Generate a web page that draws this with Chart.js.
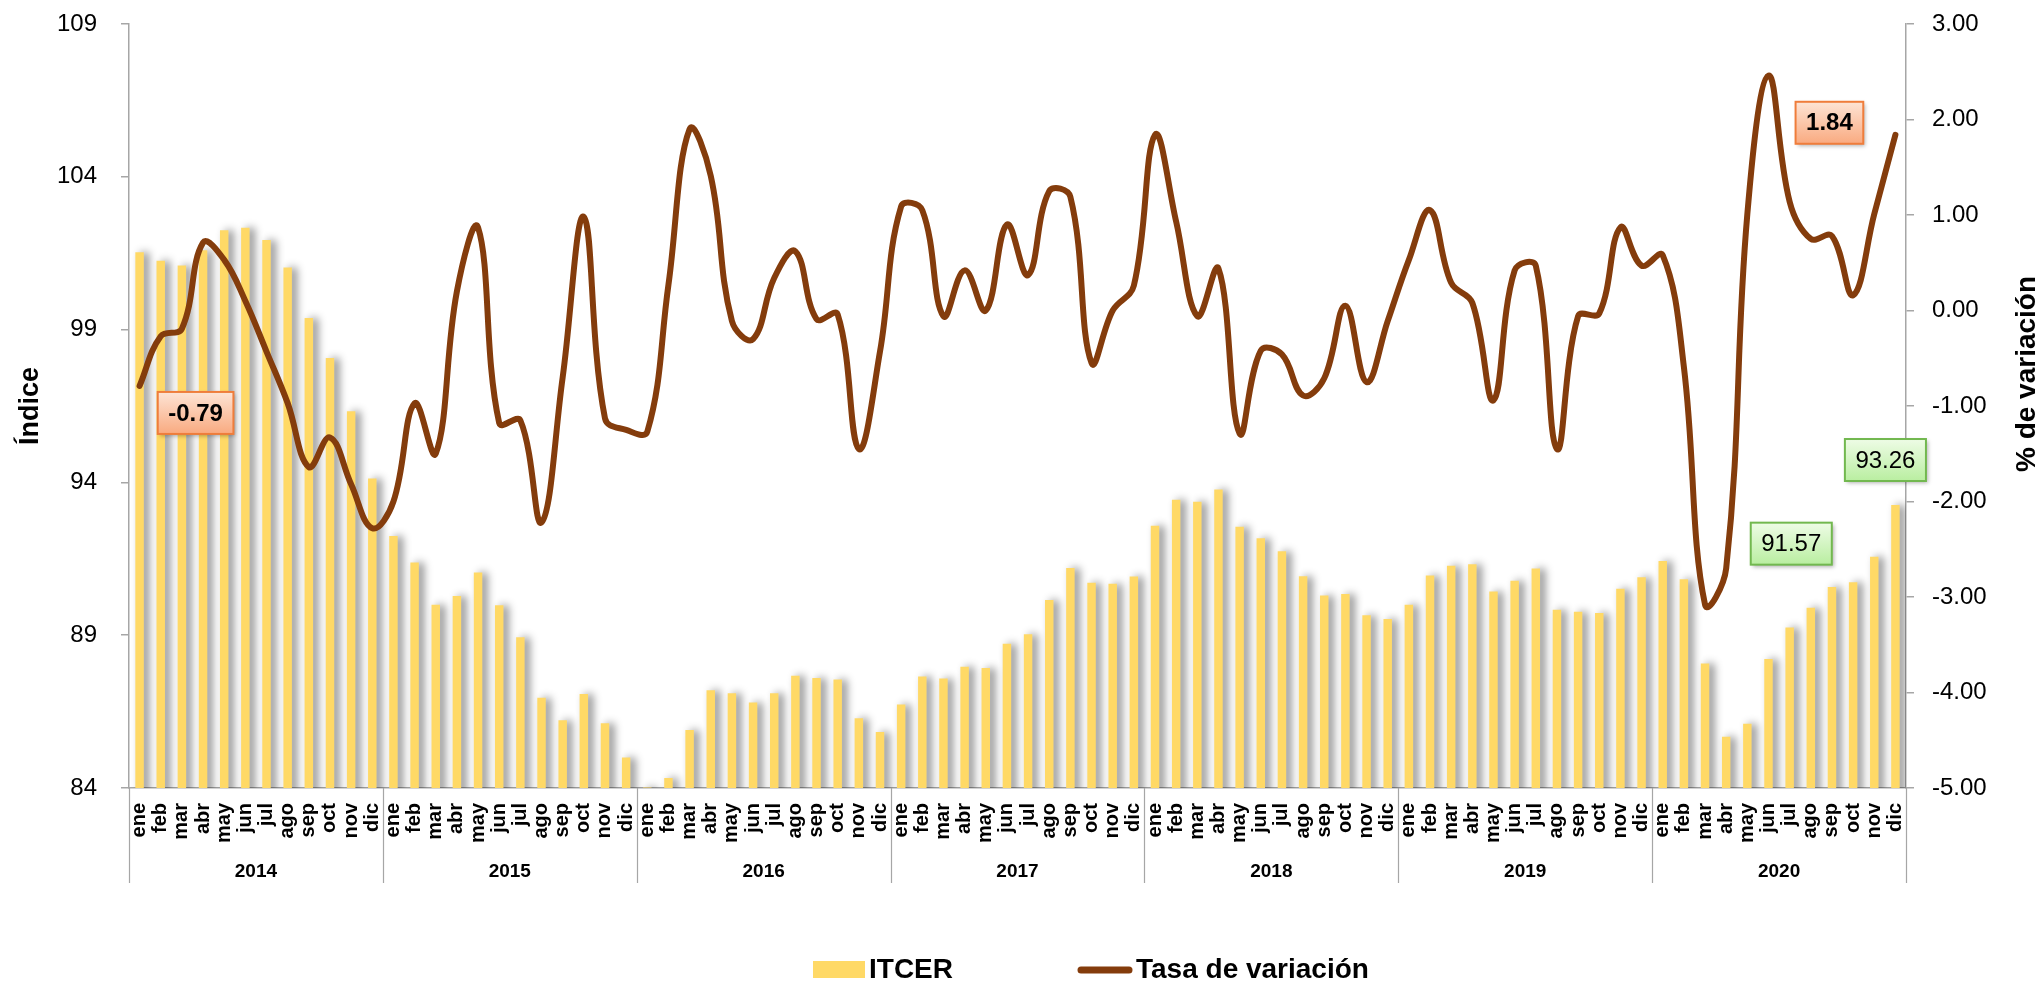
<!DOCTYPE html>
<html lang="es">
<head>
<meta charset="utf-8">
<title>ITCER y tasa de variación</title>
<script src="https://cdn.jsdelivr.net/npm/chart.js@4.4.0/dist/chart.umd.min.js"></script>
<style>
  html, body { margin: 0; padding: 0; background: #fff; }
  #wrap { width: 2040px; height: 982px; position: relative; }
</style>
</head>
<body>
<div id="wrap"><canvas id="chartItcer" width="2040" height="982"></canvas></div>
<script>
// ── datos ──────────────────────────────────
const MESES = ["ene","feb","mar","abr","may","jun","jul","ago","sep","oct","nov","dic"];
const ANIOS = ["2014","2015","2016","2017","2018","2019","2020"];

// Índice (eje izquierdo)
const ITCER = [
  101.53, 101.25, 101.10, 101.60, 102.25, 102.33, 101.93, 101.03,  99.38,  98.07,  96.33,  94.13,
   92.25,  91.38,  90.00,  90.28,  91.05,  89.98,  88.93,  86.95,  86.22,  87.08,  86.12,  85.00,
   84.02,  84.33,  85.90,  87.20,  87.10,  86.80,  87.10,  87.67,  87.60,  87.55,  86.28,  85.83,
   86.73,  87.65,  87.58,  87.97,  87.93,  88.72,  89.03,  90.15,  91.20,  90.72,  90.68,  90.92,
   92.58,  93.43,  93.37,  93.77,  92.55,  92.17,  91.75,  90.93,  90.30,  90.35,  89.65,  89.53,
   90.00,  90.95,  91.27,  91.32,  90.43,  90.78,  91.18,  89.83,  89.77,  89.73,  90.52,  90.90,
   91.43,  90.83,  88.07,  85.68,  86.10,  88.22,  89.25,  89.90,  90.58,  90.73,  91.57,  93.26
];

// % de variación (eje derecho)
const TASA = [
  -0.79, -0.27, -0.19,  0.71,  0.53,  0.10, -0.43, -0.97, -1.64, -1.33, -1.82, -2.28,
  -2.00, -0.97, -1.50,  0.20,  0.87, -1.18, -1.15, -2.22, -0.70,  0.98, -1.13, -1.25,
  -1.27,  0.27,  1.90,  1.41, -0.11, -0.30,  0.34,  0.62, -0.09, -0.04, -1.45, -0.43,
   1.09,  1.05, -0.06,  0.42,  0.00,  0.90,  0.37,  1.25,  1.19, -0.55,  0.00,  0.26,
   1.84,  0.93, -0.06,  0.44, -1.29, -0.42, -0.46, -0.89, -0.71,  0.05, -0.75, -0.11,
   0.53,  1.05,  0.29,  0.08, -0.94,  0.42,  0.47, -1.45, -0.06, -0.03,  0.87,  0.47,
   0.58, -0.59, -3.08, -2.70,  1.01,  2.46,  1.14,  0.75,  0.78,  0.16,  1.01,  1.84
];

const ETIQUETAS = ANIOS.flatMap(() => MESES);

// recuadros de valor: dataset, índice y desplazamiento desde el punto
const RECUADROS = [
  { ds: 1, idx: 0,  dx:  56, dy:  27, tipo: "tasa"  },
  { ds: 1, idx: 83, dx: -66, dy: -12, tipo: "tasa"  },
  { ds: 0, idx: 82, dx: -83, dy: -13, tipo: "itcer" },
  { ds: 0, idx: 83, dx: -10, dy: -45, tipo: "itcer" }
];

// ── estilos ────────────────────────────────
const FONT = "'Liberation Sans', Arial, sans-serif";
const GRIS = "#a6a6a6";
const AMAR = "#ffd966";
const CAFE = "#843c0c";

Chart.defaults.font.family = FONT;
Chart.defaults.color = "#000";

// sombra suave detrás de las barras
const sombraBarras = {
  id: "sombraBarras",
  beforeDatasetDraw(chart, args) {
    if (args.index !== 0) return;
    const ctx = chart.ctx;
    ctx.save();
    ctx.shadowColor   = "rgba(0,0,0,0.45)";
    ctx.shadowBlur    = 8;
    ctx.shadowOffsetX = 5;
    ctx.shadowOffsetY = 0;
  },
  afterDatasetDraw(chart, args) {
    if (args.index === 0) chart.ctx.restore();
  }
};

// separadores de año bajo el eje x
const separadores = {
  id: "separadores",
  afterDraw(chart) {
    const { ctx, chartArea, scales } = chart;
    const x = scales.x, x2 = scales.x2;
    const half = (x.getPixelForValue(1) - x.getPixelForValue(0)) / 2;
    ctx.save();
    ctx.strokeStyle = GRIS;
    ctx.lineWidth = 1.2;
    for (let k = 0; k <= ANIOS.length; k++) {
      const px = k < ANIOS.length
        ? x.getPixelForValue(k * 12) - half
        : x.getPixelForValue(ANIOS.length * 12 - 1) + half;
      ctx.beginPath();
      ctx.moveTo(Math.round(px) + 0.5, chartArea.bottom);
      ctx.lineTo(Math.round(px) + 0.5, x2.bottom - 5);
      ctx.stroke();
    }
    ctx.restore();
  }
};

// título del eje derecho, leído de abajo hacia arriba
const tituloDerecho = {
  id: "tituloDerecho",
  afterDraw(chart) {
    const ctx = chart.ctx;
    const y1 = chart.scales.y1;
    ctx.save();
    ctx.translate(y1.right - 13, (y1.top + y1.bottom) / 2 - 32);
    ctx.rotate(-Math.PI / 2);
    ctx.font = "bold 28px " + FONT;
    ctx.textAlign = "center";
    ctx.textBaseline = "middle";
    ctx.fillStyle = "#000";
    ctx.fillText("% de variación", 0, 0);
    ctx.restore();
  }
};

// recuadros con el valor
const recuadros = {
  id: "recuadros",
  afterDatasetsDraw(chart) {
    const ctx = chart.ctx;
    RECUADROS.forEach(r => {
      const el  = chart.getDatasetMeta(r.ds).data[r.idx];
      const val = chart.data.datasets[r.ds].data[r.idx];
      const txt = val.toFixed(2);
      const naranja = r.tipo === "tasa";
      ctx.save();
      ctx.font = (naranja ? "bold " : "") + "24px " + FONT;
      const w = ctx.measureText(txt).width + 21;
      const h = 42;
      const cx = el.x + r.dx, cy = el.y + r.dy;
      const x0 = cx - w / 2, y0 = cy - h / 2;
      const g = ctx.createLinearGradient(0, y0, 0, y0 + h);
      if (naranja) { g.addColorStop(0, "#fde4d5"); g.addColorStop(1, "#f9aa80"); }
      else         { g.addColorStop(0, "#eefce6"); g.addColorStop(1, "#b9eea0"); }
      ctx.shadowColor = "rgba(0,0,0,0.3)";
      ctx.shadowBlur = 4;
      ctx.shadowOffsetX = 2;
      ctx.shadowOffsetY = 2;
      ctx.fillStyle = g;
      ctx.fillRect(x0, y0, w, h);
      ctx.shadowColor = "transparent";
      ctx.lineWidth = 2;
      ctx.strokeStyle = naranja ? "#ef7d3b" : "#72b84f";
      ctx.strokeRect(x0, y0, w, h);
      ctx.fillStyle = "#000";
      ctx.textAlign = "center";
      ctx.textBaseline = "middle";
      ctx.fillText(txt, cx, cy + 1);
      ctx.restore();
    });
  }
};

// leyenda inferior
const leyenda = {
  id: "leyenda",
  afterDraw(chart) {
    const ctx = chart.ctx;
    const [barras, linea] = chart.data.datasets;
    const y = 970;
    ctx.save();
    ctx.font = "bold 28px " + FONT;
    ctx.textBaseline = "middle";
    ctx.fillStyle = barras.backgroundColor;
    ctx.fillRect(813, y - 9, 52, 17);
    ctx.fillStyle = "#000";
    ctx.fillText(barras.label, 869, y);
    ctx.strokeStyle = linea.borderColor;
    ctx.lineWidth = 7;
    ctx.lineCap = "round";
    ctx.beginPath();
    ctx.moveTo(1081, y);
    ctx.lineTo(1129, y);
    ctx.stroke();
    ctx.fillText(linea.label, 1136, y);
    ctx.restore();
  }
};

// el relleno de las etiquetas no debe empujar el área del gráfico
function ajustarEje(ancho) {
  return s => {
    s.width = ancho;
    s.paddingTop = 14;
    s.paddingBottom = 14;
  };
}

new Chart(document.getElementById("chartItcer"), {
  data: {
    labels: ETIQUETAS,
    datasets: [
      {
        type: "bar",
        label: "ITCER",
        data: ITCER,
        yAxisID: "y",
        backgroundColor: AMAR,
        borderWidth: 0,
        categoryPercentage: 1,
        barPercentage: 0.4,
        order: 2
      },
      {
        type: "line",
        label: "Tasa de variación",
        data: TASA,
        yAxisID: "y1",
        borderColor: CAFE,
        backgroundColor: CAFE,
        borderWidth: 6,
        borderCapStyle: "round",
        borderJoinStyle: "round",
        tension: 0.4,
        pointRadius: 0,
        fill: false,
        order: 1
      }
    ]
  },
  options: {
    responsive: false,
    animation: false,
    devicePixelRatio: 1,
    layout: { padding: { top: 24, bottom: 94, left: 0, right: 0 } },
    plugins: { legend: { display: false }, tooltip: { enabled: false } },
    scales: {
      x: {
        type: "category",
        offset: true,
        grid: { display: false, drawTicks: false },
        border: { display: true, color: GRIS, width: 1.5 },
        ticks: {
          autoSkip: false, minRotation: 90, maxRotation: 90, padding: 15,
          color: "#000", font: { size: 20, weight: "bold" }
        },
        afterFit: s => { s.height = 60; }
      },
      x2: {
        type: "category",
        labels: ANIOS,
        offset: true,
        position: "bottom",
        weight: 1,
        grid: { display: false, drawTicks: false },
        border: { display: false },
        ticks: { padding: 12, color: "#000", font: { size: 19, weight: "bold" } },
        afterFit: s => { s.height = 40; }
      },
      y: {
        position: "left",
        min: 84, max: 109,
        ticks: { stepSize: 5, padding: 24, color: "#000", font: { size: 24 } },
        grid: { drawOnChartArea: false, tickLength: 8, color: GRIS, lineWidth: 1.5 },
        border: { color: GRIS, width: 1.5 },
        title: {
          display: true, text: "Índice", color: "#000",
          font: { size: 27, weight: "bold", lineHeight: 1.2 },
          padding: { top: 14, bottom: 0 }
        },
        afterFit: ajustarEje(129)
      },
      y1: {
        position: "right",
        min: -5, max: 3,
        ticks: {
          stepSize: 1, padding: 18, color: "#000", font: { size: 24 },
          callback: v => Number(v).toFixed(2)
        },
        grid: { drawOnChartArea: false, tickLength: 8, color: GRIS, lineWidth: 1.5 },
        border: { color: GRIS, width: 1.5 },
        title: { display: false },
        afterFit: ajustarEje(134)
      }
    }
  },
  plugins: [sombraBarras, separadores, tituloDerecho, recuadros, leyenda]
});
</script>
</body>
</html>
